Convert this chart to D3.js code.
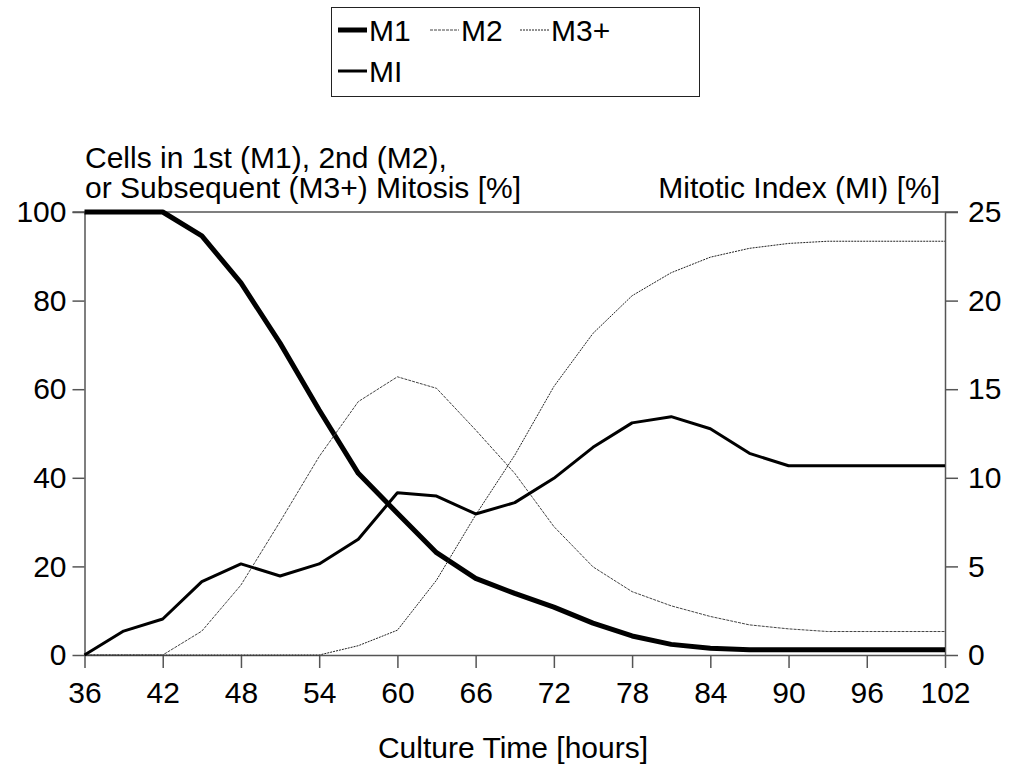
<!DOCTYPE html>
<html>
<head>
<meta charset="utf-8">
<script src="https://cdn.jsdelivr.net/npm/d3@7"></script>
<style>
  body { margin: 0; background: #fff; }
  svg text { font-family: "Liberation Sans", Arial, sans-serif; fill: #000; }
</style>
</head>
<body>
<div id="chart"></div>
<script>
// Culture time points (hours)
const hours = [36, 39, 42, 45, 48, 51, 54, 57, 60, 63, 66, 69, 72, 75, 78, 81, 84, 87, 90, 93, 96, 99, 102]

// Cells in 1st / 2nd / subsequent mitosis [%] (left axis)
const m1 = [100, 100, 100, 94.6, 84.0, 70.4, 55.3, 41.0, 32.0, 23.1, 17.3, 13.9, 10.8, 7.2, 4.3, 2.4, 1.5, 1.2, 1.2, 1.2, 1.2, 1.2, 1.2]
const m2 = [0, 0, 0, 5.4, 15.8, 30.1, 44.8, 57.2, 62.8, 60.2, 50.8, 41.0, 29.0, 19.9, 14.3, 11.1, 8.7, 6.8, 5.9, 5.3, 5.3, 5.3, 5.3]
const m3 = [0, 0, 0, 0, 0, 0, 0, 2.1, 5.6, 16.9, 31.6, 45.1, 60.6, 72.6, 81.1, 86.3, 89.8, 91.8, 92.9, 93.4, 93.4, 93.4, 93.4]

// Mitotic index [%] (right axis)
const mi = [0, 1.35, 2.03, 4.14, 5.14, 4.46, 5.14, 6.53, 9.16, 8.97, 7.96, 8.6, 9.97, 11.72, 13.1, 13.45, 12.77, 11.38, 10.68, 10.68, 10.68, 10.68, 10.68]

// Tick labels
const xTicks = [36, 42, 48, 54, 60, 66, 72, 78, 84, 90, 96, 102]
const yLeftTicks = [0, 20, 40, 60, 80, 100]
const yRightTicks = [0, 5, 10, 15, 20, 25]

const width = 1010, height = 765
const margin = {top: 212, right: 65, bottom: 110, left: 84.5}
const fontSize = 30

const svg = d3.select("#chart").append("svg")
    .attr("width", width)
    .attr("height", height)

const x = d3.scaleLinear().domain([36, 102]).range([margin.left, width - margin.right])
const yL = d3.scaleLinear().domain([0, 100]).range([height - margin.bottom, margin.top])
const yR = d3.scaleLinear().domain([0, 25]).range([height - margin.bottom, margin.top])

// Top line at 100 / 25, spans both outer tick stubs
svg.append("line")
    .attr("x1", x(36) - 12).attr("x2", x(102) + 13)
    .attr("y1", yL(100)).attr("y2", yL(100))
    .attr("stroke", "#555").attr("stroke-width", 1.5)

function styleAxis(g) {
    g.selectAll(".domain").attr("stroke", "#555").attr("stroke-width", 1.5)
    g.selectAll(".tick line").attr("stroke", "#555").attr("stroke-width", 1.5)
    g.selectAll("text").attr("font-size", fontSize).attr("fill", "#000")
    g.attr("font-family", null)
}

svg.append("g")
    .attr("transform", `translate(0,${yL(0)})`)
    .call(d3.axisBottom(x).tickValues(xTicks).tickSize(13).tickSizeOuter(0).tickPadding(14))
    .call(styleAxis)

svg.append("g")
    .attr("transform", `translate(${x(36)},0)`)
    .call(d3.axisLeft(yL).tickValues(yLeftTicks).tickSize(12).tickSizeOuter(0).tickPadding(6))
    .call(styleAxis)

svg.append("g")
    .attr("transform", `translate(${x(102)},0)`)
    .call(d3.axisRight(yR).tickValues(yRightTicks).tickSize(13).tickSizeOuter(0).tickPadding(10))
    .call(styleAxis)

// Series lines
const lineL = d3.line().x((d, i) => x(hours[i])).y(d => yL(d))
const lineR = d3.line().x((d, i) => x(hours[i])).y(d => yR(d))

const series = [
    {name: "M1", values: m1, line: lineL, color: "#000", width: 5, dash: null},
    {name: "M2", values: m2, line: lineL, color: "#444", width: 1, dash: "3 1"},
    {name: "M3+", values: m3, line: lineL, color: "#222", width: 1, dash: "2 1"},
    {name: "MI", values: mi, line: lineR, color: "#000", width: 3, dash: null}
]

svg.selectAll("path.series")
    .data(series)
    .enter()
    .append("path")
    .attr("class", "series")
    .attr("d", d => d.line(d.values))
    .attr("fill", "none")
    .attr("stroke", d => d.color)
    .attr("stroke-width", d => d.width)
    .attr("stroke-dasharray", d => d.dash)
    .attr("stroke-linejoin", "round")

// Axis titles
svg.append("text").attr("x", 85).attr("y", 168).attr("font-size", fontSize)
    .text("Cells in 1st (M1), 2nd (M2),")
svg.append("text").attr("x", 85).attr("y", 198).attr("font-size", fontSize)
    .text("or Subsequent (M3+) Mitosis [%]")
svg.append("text").attr("x", 940).attr("y", 198).attr("font-size", fontSize)
    .attr("text-anchor", "end")
    .text("Mitotic Index (MI) [%]")
svg.append("text").attr("x", 513).attr("y", 758).attr("font-size", fontSize)
    .attr("text-anchor", "middle")
    .text("Culture Time [hours]")

// Legend
const legend = svg.append("g")
legend.append("rect")
    .attr("x", 331.5).attr("y", 7.5).attr("width", 368).attr("height", 89)
    .attr("fill", "#fff").attr("stroke", "#222").attr("stroke-width", 1)

const legendPos = [
    {x: 338, y: 30},
    {x: 430, y: 30},
    {x: 520, y: 30},
    {x: 338, y: 71}
]

const items = legend.selectAll("g.item")
    .data(series)
    .enter()
    .append("g")
    .attr("class", "item")
    .attr("transform", (d, i) => `translate(${legendPos[i].x},${legendPos[i].y})`)

items.append("line")
    .attr("x1", 0).attr("x2", 29)
    .attr("y1", 0).attr("y2", 0)
    .attr("stroke", d => d.color)
    .attr("stroke-width", d => d.width)
    .attr("stroke-dasharray", d => d.dash)

items.append("text")
    .attr("x", 31).attr("y", 10.5)
    .attr("font-size", fontSize)
    .text(d => d.name)
</script>
</body>
</html>
